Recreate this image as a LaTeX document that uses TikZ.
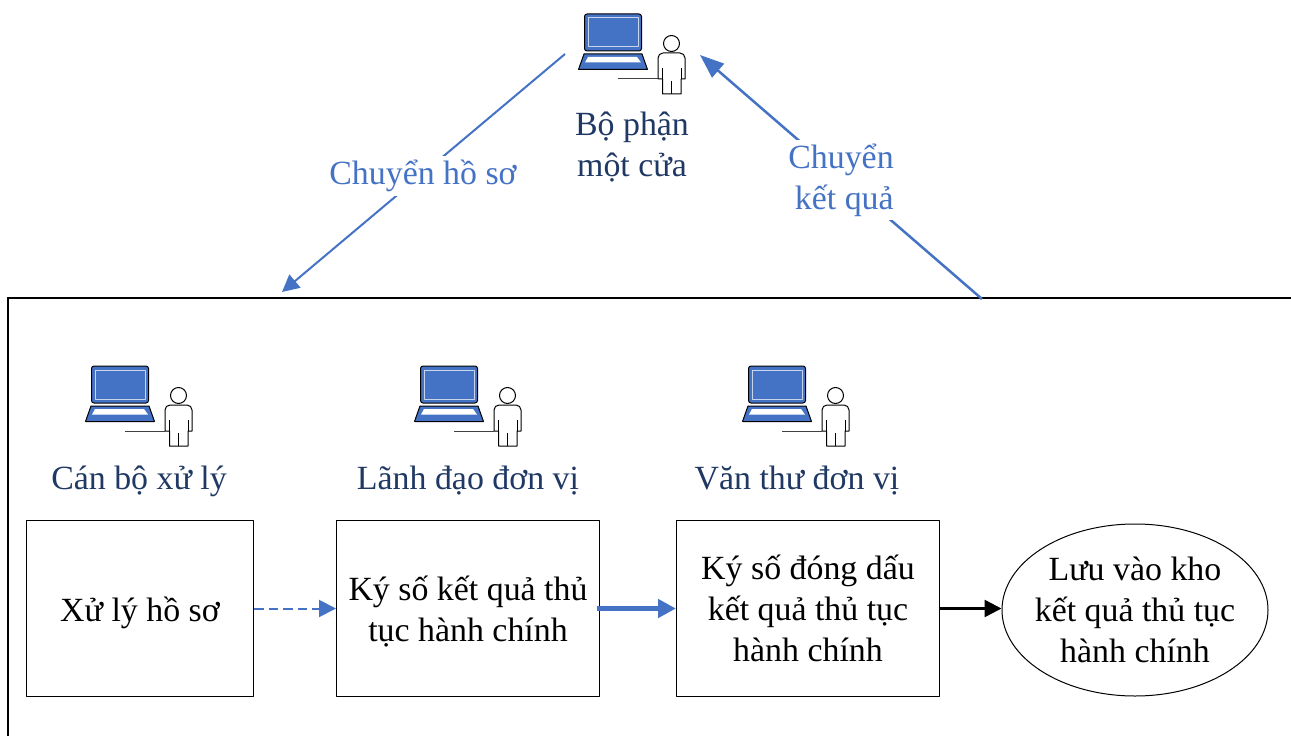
\documentclass[tikz,border=0pt]{standalone}
\usepackage{fontspec}
\setmainfont{Liberation Serif}
\usetikzlibrary{arrows.meta,shapes.geometric}
\definecolor{edgeblue}{HTML}{4472C4}
\definecolor{rolenavy}{HTML}{1F3864}
\newcommand{\droptext}[1]{\raisebox{0pt}[\dimexpr\height+8bp\relax]{#1}}
\tikzset{
  staff/.pic={
    % laptop
    \draw [line width=1bp,fill=edgeblue,rounded corners=2.5bp] (6.5,0) rectangle (63.5,37);
    \draw [line width=1bp,draw=white!70!edgeblue] (10,4) rectangle (60,33);
    \draw [line width=1bp,fill=edgeblue] (6,40) -- (64,40) -- (69.5,55.5) -- (0.5,55.5) -- cycle;
    \fill [white] (10,43) -- (59,43) -- (63,48.5) -- (7,48.5) -- cycle;
    % person
    \draw [line width=1bp] (93.5,29.5) circle (8);
    \draw [line width=1bp,fill=white] (80,65) -- (80,44) to[out=90,in=180] (85,39) -- (102,39) to[out=0,in=90] (107,44) -- (107,65) -- (103,65) -- (103,80) -- (84.5,80) -- (84.5,65) -- cycle;
    \draw [line width=1bp] (84.5,54) -- (84.5,65) (103,54) -- (103,65) (93.5,67) -- (93.5,80);
    \draw [line width=1bp,black!75] (40,65) -- (80,65);
  },
  stepbox/.style={rectangle, draw=black, line width=1bp, anchor=north west, align=center, inner sep=0pt, font=\fontsize{34}{41}\selectfont},
  storeoval/.style={ellipse, draw=black, line width=1bp, align=center, inner sep=-8bp, font=\fontsize{34}{41}\selectfont},
  rolelabel/.style={text=rolenavy, align=center, inner sep=0pt, font=\fontsize{34}{41}\selectfont},
  edgelabel/.style={text=edgeblue, fill=white, align=right, inner sep=4bp, font=\fontsize{34}{41}\selectfont}
}
\begin{document}
\begin{tikzpicture}[x=1bp,y=-1bp,>={Triangle[length=17bp,width=17bp]},line join=bevel]
  \useasboundingbox (0,0) rectangle (1291,736);
  % Frame
  \draw [line width=2.5bp,line join=miter] (8,736) -- (8,298) -- (1291,298);
  % Icons
  \pic at (578,14) {staff};
  \pic at (85,366) {staff};
  \pic at (414,366) {staff};
  \pic at (742,366) {staff};
  % Roles
  \node [rolelabel] (oneStop) at (632,147) {Bộ phận\\một cửa};
  \node [rolelabel] (officer) at (139,481) {Cán bộ xử lý};
  \node [rolelabel] (leader) at (468,481) {Lãnh đạo đơn vị};
  \node [rolelabel] (clerk) at (797,481) {Văn thư đơn vị};
  % Node: steps
  \node [stepbox,minimum width=227bp,minimum height=176bp] (handle) at (26,520) {\droptext{Xử lý hồ sơ}};
  \node [stepbox,minimum width=263bp,minimum height=176bp] (sign) at (336,520) {\droptext{\begin{tabular}{@{}c@{}}Ký số kết quả thủ\\tục hành chính\end{tabular}}};
  \node [stepbox,minimum width=263bp,minimum height=176bp] (stamp) at (676,520) {Ký số đóng dấu\\kết quả thủ tục\\hành chính};
  \node [storeoval,minimum width=266bp,minimum height=172bp] (store) at (1135,610) {Lưu vào kho\\kết quả thủ tục\\hành chính};
  % Edge: steps
  \draw [->,edgeblue,line width=2bp,dash pattern=on 9.5bp off 5bp] (handle) -- (sign);
  \draw [->,edgeblue,line width=4.5bp,>={Triangle[length=18bp,width=18bp]},shorten <=-3bp] (sign) -- (stamp);
  \draw [->,black,line width=2.5bp] (stamp) -- (stamp -| store.west);
  % Edge: transfers
  \coordinate (sendFrom) at (565,54);
  \coordinate (sendTo) at (282,292);
  \coordinate (backFrom) at (982,299);
  \coordinate (backTo) at (700,55);
  \draw [->,edgeblue,line width=2bp] (sendFrom) -- (sendTo);
  \draw [->,edgeblue,line width=2.5bp,>={Triangle[length=24bp,width=18bp]}] (backFrom) -- (backTo);
  \node [edgelabel] (sendLabel) at (423,176) {Chuyển hồ sơ};
  \node [edgelabel] (backLabel) at (841,180) {Chuyển\\kết quả};
\end{tikzpicture}
\end{document}
